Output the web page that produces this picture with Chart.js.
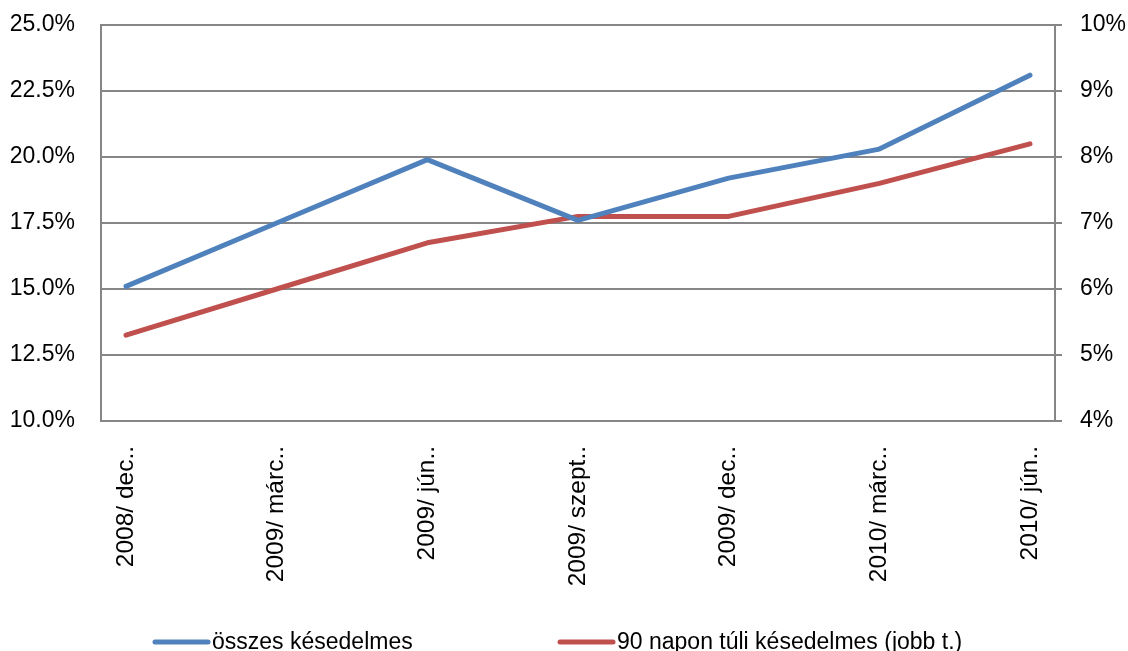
<!DOCTYPE html>
<html>
<head>
<meta charset="utf-8">
<script src="https://cdn.jsdelivr.net/npm/chart.js@4/dist/chart.umd.min.js"></script>
<style>
  html, body { margin: 0; padding: 0; background: #ffffff; }
  #wrap { width: 1128px; height: 651px; }
</style>
</head>
<body>
<div id="wrap"><canvas id="chart" width="1128" height="651"></canvas></div>
<script>
// Quarter labels (as truncated on the axis)
const periods = ['2008/ dec..', '2009/ márc..', '2009/ jún..', '2009/ szept..', '2009/ dec..', '2010/ márc..', '2010/ jún..'];
// Share of all overdue loans, % (left axis)
const totalOverdue = [15.1, 17.5, 19.9, 17.6, 19.2, 20.3, 23.1];
// Share overdue by more than 90 days, % (right axis)
const over90Days = [5.3, 6.0, 6.7, 7.1, 7.1, 7.6, 8.2];
const seriesNames = ['összes késedelmes', '90 napon túli késedelmes (jobb t.)'];
// Axis ranges
const leftAxis = { min: 10, max: 25, step: 2.5 };
const rightAxis = { min: 4, max: 10, step: 1 };

const FONT = '"Liberation Sans", Arial, sans-serif';
const GRID = '#868686';

const toPoints = arr => arr.map((v, i) => ({ x: i, y: v }));

// Fixed axis widths; vertical label padding is left to the layout padding
const fitVertical = width => s => {
  s.width = width;
  s.paddingTop = 0;
  s.paddingBottom = 0;
};

// Legend drawn on the canvas below the axis labels
const lineLegend = {
  id: 'lineLegend',
  afterDraw(chart, args, opts) {
    const ctx = chart.ctx;
    ctx.save();
    ctx.font = opts.fontSize + 'px ' + FONT;
    ctx.textBaseline = 'alphabetic';
    ctx.textAlign = 'left';
    chart.data.datasets.forEach((ds, i) => {
      const x = opts.starts[i];
      ctx.strokeStyle = ds.borderColor;
      ctx.lineWidth = 5;
      ctx.lineCap = 'round';
      ctx.beginPath();
      ctx.moveTo(x + 2, opts.lineY);
      ctx.lineTo(x + opts.lineLen, opts.lineY);
      ctx.stroke();
      ctx.fillStyle = '#000';
      ctx.fillText(ds.label, x + opts.lineLen + 4, opts.textY);
    });
    ctx.restore();
  }
};

new Chart(document.getElementById('chart'), {
  type: 'line',
  data: {
    datasets: [
      {
        label: seriesNames[0],
        data: toPoints(totalOverdue),
        yAxisID: 'y',
        borderColor: '#4F81BD',
        backgroundColor: '#4F81BD',
        borderWidth: 5,
        borderCapStyle: 'round',
        borderJoinStyle: 'round',
        pointRadius: 0,
        tension: 0
      },
      {
        label: seriesNames[1],
        data: toPoints(over90Days),
        yAxisID: 'y1',
        borderColor: '#C0504D',
        backgroundColor: '#C0504D',
        borderWidth: 5,
        borderCapStyle: 'round',
        borderJoinStyle: 'round',
        pointRadius: 0,
        tension: 0
      }
    ]
  },
  options: {
    responsive: false,
    animation: false,
    layout: { padding: { top: 25, left: 0, right: 0, bottom: 0 } },
    plugins: {
      legend: { display: false },
      tooltip: { enabled: false },
      lineLegend: { starts: [153, 558], lineLen: 55, lineY: 642, textY: 649, fontSize: 23 }
    },
    scales: {
      x: {
        type: 'linear',
        position: 'bottom',
        min: -0.166,
        max: periods.length - 1 + 0.166,
        afterBuildTicks: s => { s.ticks = periods.map((_, i) => ({ value: i })); },
        afterFit: s => { s.height = 230; },
        grid: { display: false },
        border: { display: true, color: GRID, width: 2 },
        ticks: {
          autoSkip: false,
          minRotation: 90,
          maxRotation: 90,
          padding: 17,
          color: '#000',
          font: { family: FONT, size: 24.5 },
          callback: v => periods[v]
        }
      },
      y: {
        position: 'left',
        min: leftAxis.min,
        max: leftAxis.max,
        afterFit: fitVertical(101),
        grid: { color: GRID, lineWidth: 2, drawTicks: false },
        border: { display: true, color: GRID, width: 2 },
        ticks: {
          stepSize: leftAxis.step,
          padding: 26,
          color: '#000',
          font: { family: FONT, size: 23 },
          callback: v => v.toFixed(1) + '%'
        }
      },
      y1: {
        position: 'right',
        min: rightAxis.min,
        max: rightAxis.max,
        afterFit: fitVertical(73),
        grid: { color: GRID, lineWidth: 2, drawOnChartArea: false, drawTicks: true, tickLength: 7 },
        border: { display: true, color: GRID, width: 2 },
        ticks: {
          stepSize: rightAxis.step,
          padding: 18,
          color: '#000',
          font: { family: FONT, size: 23 },
          callback: v => v + '%'
        }
      }
    }
  },
  plugins: [lineLegend]
});
</script>
</body>
</html>
